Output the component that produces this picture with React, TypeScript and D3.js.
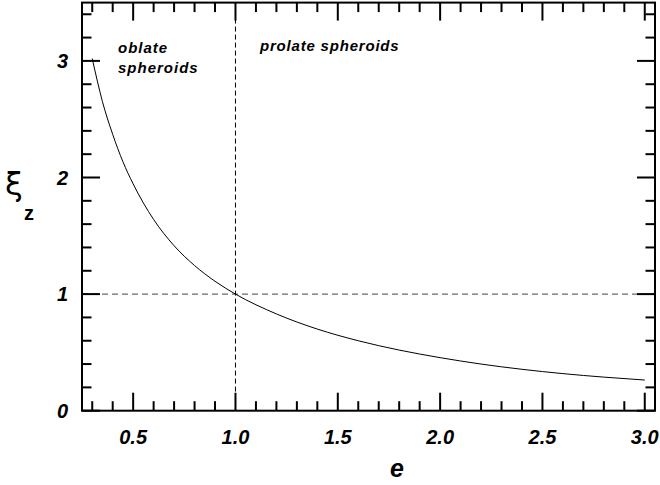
import React from "react";
import * as d3 from "d3";

// curve: e vs xi_z
const eVals = [0.3, 0.35, 0.4, 0.45, 0.5, 0.6, 0.7, 0.8, 0.9, 1.0, 1.2, 1.4, 1.6, 1.8, 2.0, 2.2, 2.4, 2.6, 2.8, 3.0];
const xiVals = [3.02, 2.65, 2.37, 2.135, 1.945, 1.64, 1.415, 1.245, 1.11, 1.0, 0.83, 0.70, 0.60, 0.52, 0.455, 0.40, 0.355, 0.318, 0.288, 0.263];

const xMajor = [0.5, 1.0, 1.5, 2.0, 2.5, 3.0];
const xMajorLabels = ["0.5", "1.0", "1.5", "2.0", "2.5", "3.0"];
const yMajor = [0, 1, 2, 3];
const yMajorLabels = ["0", "1", "2", "3"];

const width = 660;
const height = 485;
const left = 82, right = 655, top = 2.6, bottom = 410.7;

export default function App() {
  const x = d3.scaleLinear().domain([0.25, 3.05]).range([left, right]);
  const y = d3.scaleLinear().domain([0, 3.5]).range([bottom, top]);

  const xMinor = d3.range(3, 31).map(d => d / 10).filter(d => Math.round(d * 10) % 5 !== 0);
  const yMinor = d3.range(1, 18).map(d => d / 5).filter(d => Math.round(d * 5) % 5 !== 0);

  const line = d3.line<number>()
    .x((d, i) => x(eVals[i]))
    .y(d => y(d))
    .curve(d3.curveMonotoneX);

  const bigTick = 18, smallTick = 9.5;
  const font = "'Liberation Sans', Arial, sans-serif";

  return (
    <svg width={width} height={height} style={{ position: "absolute", left: 0, top: 0 }}>
      <rect width={width} height={height} fill="white" />

      {/* reference lines */}
      <line x1={left} x2={right} y1={y(1)} y2={y(1)} stroke="#444" strokeWidth={1} strokeDasharray="6,4" />
      <line x1={x(1)} x2={x(1)} y1={top} y2={bottom} stroke="#000" strokeWidth={1} strokeDasharray="5,3" />

      {/* curve */}
      <path d={line(xiVals) || ""} fill="none" stroke="#000" strokeWidth={1} />

      {/* ticks */}
      <g stroke="#000" strokeWidth={2}>
        {xMajor.map(d => (
          <g key={"xM" + d}>
            <line x1={x(d)} x2={x(d)} y1={bottom} y2={bottom - bigTick} />
            <line x1={x(d)} x2={x(d)} y1={top} y2={top + bigTick} />
          </g>
        ))}
        {xMinor.map(d => (
          <g key={"xm" + d}>
            <line x1={x(d)} x2={x(d)} y1={bottom} y2={bottom - smallTick} />
            <line x1={x(d)} x2={x(d)} y1={top} y2={top + smallTick} />
          </g>
        ))}
        {yMajor.map(d => (
          <g key={"yM" + d}>
            <line x1={left} x2={left + bigTick} y1={y(d)} y2={y(d)} />
            <line x1={right} x2={right - bigTick} y1={y(d)} y2={y(d)} />
          </g>
        ))}
        {yMinor.map(d => (
          <g key={"ym" + d}>
            <line x1={left} x2={left + smallTick} y1={y(d)} y2={y(d)} />
            <line x1={right} x2={right - smallTick} y1={y(d)} y2={y(d)} />
          </g>
        ))}
      </g>

      {/* frame */}
      <rect x={left} y={top} width={right - left} height={bottom - top} fill="none" stroke="#000" strokeWidth={2} />

      {/* tick labels */}
      <g fontFamily={font} fontWeight="bold" fontStyle="italic" fontSize={20} fill="#000">
        {xMajor.map((d, i) => (
          <text key={"xl" + d} x={x(d)} y={444} textAnchor="middle">{xMajorLabels[i]}</text>
        ))}
        {yMajor.map((d, i) => (
          <text key={"yl" + d} x={68} y={y(d)} dy="0.36em" textAnchor="end">{yMajorLabels[i]}</text>
        ))}
      </g>

      {/* annotations */}
      <g fontFamily={font} fontWeight="bold" fontStyle="italic" fontSize={15} letterSpacing={1} fill="#000">
        <text x={118} y={52.7}>oblate</text>
        <text x={118} y={72.7}>spheroids</text>
        <text x={260} y={50.7} letterSpacing={0.8}>prolate spheroids</text>
      </g>

      {/* axis titles */}
      <text x={397} y={477} textAnchor="middle" fontFamily={font} fontWeight="bold" fontStyle="italic" fontSize={25}>e</text>
      <text x={5} y={195} fontFamily="'DejaVu Sans', sans-serif" fontSize={32}>ξ</text>
      <text x={24} y={220} fontFamily={font} fontWeight="bold" fontSize={20}>z</text>
    </svg>
  );
}
